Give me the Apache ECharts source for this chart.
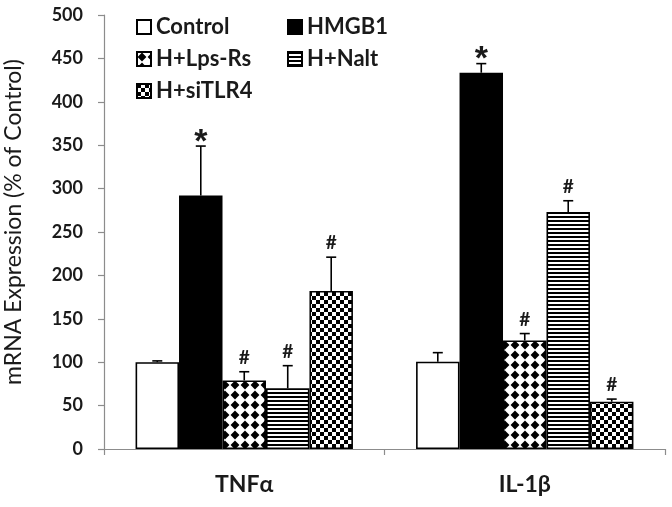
<!DOCTYPE html>
<html>
<head>
<meta charset="utf-8">
<script src="https://cdn.jsdelivr.net/npm/echarts@6/dist/echarts.min.js"></script>
<style>html,body{margin:0;padding:0;background:#fff;}#chart{width:672px;height:507px;}</style>
</head>
<body>
<div id="chart"></div>
<script>
// ---- data ----
var categories = ['TNFα', 'IL-1β'];
var groupNames = ['Control', 'HMGB1', 'H+Lps-Rs', 'H+Nalt', 'H+siTLR4'];
var controlVals = [100, 100.5];
var hmgb1Vals = [292, 433.5];
var lpsRsVals = [79, 125];
var naltVals = [70, 273];
var sitlr4Vals = [182, 54.5];
// upper end of error bars
var controlErr = [101.5, 111];
var hmgb1Err = [349, 444];
var lpsRsErr = [89, 133];
var naltErr = [96, 286];
var sitlr4Err = [221, 57.5];
// significance marks
var controlMarks = ['', ''];
var hmgb1Marks = ['*', '*'];
var lpsRsMarks = ['#', '#'];
var naltMarks = ['#', '#'];
var sitlr4Marks = ['#', '#'];
var yTicks = [0, 50, 100, 150, 200, 250, 300, 350, 400, 450, 500];

// ---- patterns ----
function makeTile(w, h, draw) {
  var c = document.createElement('canvas');
  c.width = w; c.height = h;
  var ctx = c.getContext('2d');
  ctx.fillStyle = '#fff'; ctx.fillRect(0, 0, w, h);
  ctx.fillStyle = '#000';
  draw(ctx);
  return c;
}
var diamondTile = makeTile(10, 10, function (ctx) {
  ctx.beginPath();
  ctx.moveTo(5, 0.6); ctx.lineTo(9.4, 5); ctx.lineTo(5, 9.4); ctx.lineTo(0.6, 5);
  ctx.closePath(); ctx.fill();
});
var stripeTile = makeTile(4, 4, function (ctx) { ctx.fillRect(0, 0, 4, 2); });
var checkTile = makeTile(8, 8, function (ctx) { ctx.fillRect(0, 0, 4, 4); ctx.fillRect(4, 4, 4, 4); });

var fills = [
  '#ffffff',
  '#000000',
  { image: diamondTile, repeat: 'repeat' },
  { image: stripeTile, repeat: 'repeat' },
  { image: checkTile, repeat: 'repeat' }
];
var valueSets = [controlVals, hmgb1Vals, lpsRsVals, naltVals, sitlr4Vals];
var errSets = [controlErr, hmgb1Err, lpsRsErr, naltErr, sitlr4Err];
var markSets = [controlMarks, hmgb1Marks, lpsRsMarks, naltMarks, sitlr4Marks];

var CAT_GAP = 0.225;
var FONT = 'Lato, "Noto Sans", sans-serif';
var TXT = '#1a1a1a';

var series = groupNames.map(function (name, i) {
  return {
    name: name,
    type: 'bar',
    barGap: '0%',
    barCategoryGap: (CAT_GAP * 100) + '%',
    data: valueSets[i],
    itemStyle: { color: fills[i], borderColor: '#000', borderWidth: 1.6 },
    emphasis: { disabled: true },
    z: 2
  };
});

var errData = [];
for (var s = 0; s < groupNames.length; s++) {
  for (var c = 0; c < categories.length; c++) {
    errData.push([c, s, valueSets[s][c], errSets[s][c], markSets[s][c]]);
  }
}

series.push({
  type: 'custom',
  name: 'err',
  z: 5,
  silent: true,
  data: errData,
  encode: { x: 0, y: 3 },
  renderItem: function (params, api) {
    var cat = api.value(0), si = api.value(1), v = api.value(2), e = api.value(3);
    var mark = errData[params.dataIndex][4];
    var band = api.size([1, 0])[0];
    var groupW = band * (1 - CAT_GAP);
    var bw = groupW / groupNames.length;
    var cx = api.coord([cat, 0])[0] - groupW / 2 + bw * (si + 0.5);
    var y0 = api.coord([cat, v])[1];
    var y1 = api.coord([cat, e])[1];
    var st = { stroke: '#000', lineWidth: 1.6 };
    var children = [
      { type: 'line', shape: { x1: cx, y1: y0, x2: cx, y2: y1 }, style: st },
      { type: 'line', shape: { x1: cx - 5, y1: y1, x2: cx + 5, y2: y1 }, style: st }
    ];
    if (mark) {
      var isStar = mark === '*';
      children.push({
        type: 'text',
        style: {
          text: mark, x: cx, y: isStar ? y1 - 3.5 : y1 - 14,
          align: 'center', verticalAlign: 'middle',
          fill: TXT,
          font: isStar ? 'bold 34px "Liberation Sans", Arial, sans-serif' : 'bold 19px ' + FONT
        }
      });
    }
    return { type: 'group', children: children };
  }
});

var legendText = { fontFamily: FONT, fontWeight: 'bold', fontSize: 22, color: TXT, lineHeight: 26 };
var chart = echarts.init(document.getElementById('chart'), null, { renderer: 'canvas' });
chart.setOption({
  animation: false,
  backgroundColor: '#fff',
  grid: { left: 104, right: 7, top: 15, bottom: 58, outerBoundsMode: 'none' },
  legend: [
    {
      data: ['Control', 'H+Lps-Rs', 'H+siTLR4'],
      orient: 'vertical', left: 131, top: 9, icon: 'rect',
      itemWidth: 14, itemHeight: 14, itemGap: 6,
      textStyle: legendText,
      selectedMode: false
    },
    {
      data: ['HMGB1', 'H+Nalt'],
      orient: 'vertical', left: 282, top: 9, icon: 'rect',
      itemWidth: 14, itemHeight: 14, itemGap: 6,
      textStyle: legendText,
      selectedMode: false
    }
  ],
  xAxis: {
    type: 'category',
    data: categories,
    axisLine: { lineStyle: { color: '#8c8c8c', width: 1.2 } },
    axisTick: { show: true, length: 6, lineStyle: { color: '#8c8c8c', width: 1.2 } },
    axisLabel: { fontFamily: FONT, fontWeight: 'bold', fontSize: 23, color: TXT, margin: 24 }
  },
  yAxis: {
    type: 'value',
    min: 0, max: 500, interval: 50,
    name: 'mRNA Expression (% of Control)',
    nameLocation: 'middle',
    nameGap: 79,
    nameTextStyle: { fontFamily: FONT, fontSize: 23, color: TXT, padding: [0, 0, 0, 20] },
    axisLine: { show: true, lineStyle: { color: '#8c8c8c', width: 1.2 } },
    axisTick: { show: true, length: 6, lineStyle: { color: '#8c8c8c', width: 1.2 } },
    splitLine: { show: false },
    axisLabel: {
      fontFamily: FONT, fontWeight: 'bold', fontSize: 18, color: TXT, margin: 21,
      formatter: function (v) { return yTicks.indexOf(v) >= 0 ? String(v) : ''; }
    }
  },
  series: series
});
</script>
</body>
</html>
